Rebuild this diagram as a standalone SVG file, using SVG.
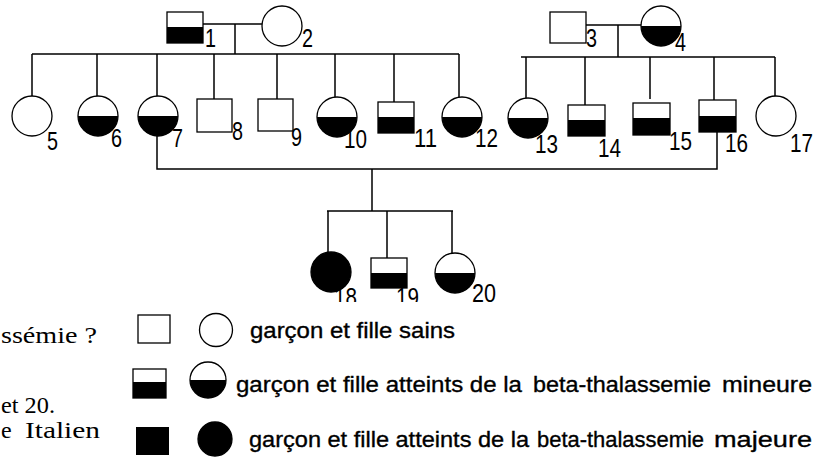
<svg xmlns="http://www.w3.org/2000/svg" width="828" height="457" viewBox="0 0 828 457">
<style>
.ln{stroke:#000;stroke-width:1.5;fill:none}
.sh{stroke:#000;stroke-width:1.3;fill:#fff}
.blk{fill:#000}
.full{fill:#000;stroke:#000;stroke-width:1.3}
.lbl{font-family:"Liberation Sans",Arial,sans-serif;font-size:25px;fill:#000}
.leg{font-family:"Liberation Sans",Arial,sans-serif;font-size:22px;fill:#000;stroke:#000;stroke-width:0.35}
.ser{font-family:"Liberation Serif","Times New Roman",serif;font-size:24px;fill:#000}
</style>
<defs>
<clipPath id="cut"><rect x="0" y="0" width="828" height="302"/></clipPath>
</defs>
<rect width="828" height="457" fill="#fff"/>

<g id="connectors">
<path class="ln" d="M203 24H262M235 24V54M32 54H459"/>
<path class="ln" d="M32 54V96M97 54V96M157 54V96M214 54V99M277 54V99M335 54V97M394 54V102M459 54V97"/>
<path class="ln" d="M586 25H641M618 25V57M521 57H775"/>
<path class="ln" d="M526 57V98M585 57V105M650 57V99M714 57V100M775 57V96"/>
<path class="ln" d="M157 136V169H717V132M372 169V211M327 211H453"/>
<path class="ln" d="M328 211V252M387 211V258M452 211V253"/>
</g>

<g id="n1"><rect class="sh" x="167" y="12" width="36" height="31"/><rect class="blk" x="167" y="27" width="36" height="16"/><text class="lbl" x="205" y="47" textLength="11" lengthAdjust="spacingAndGlyphs">1</text></g>
<g id="n2"><circle class="sh" cx="282" cy="26" r="20"/><text class="lbl" x="302" y="47" textLength="11" lengthAdjust="spacingAndGlyphs">2</text></g>
<g id="n3"><rect class="sh" x="550" y="12" width="36" height="31"/><text class="lbl" x="586" y="47" textLength="11" lengthAdjust="spacingAndGlyphs">3</text></g>
<g id="n4"><circle class="sh" cx="661" cy="26" r="20"/><path class="blk" d="M641 26A20 20 0 0 0 681 26Z"/><text class="lbl" x="675" y="51" textLength="11" lengthAdjust="spacingAndGlyphs">4</text></g>

<g id="n5"><circle class="sh" cx="32" cy="116" r="20"/><text class="lbl" x="47" y="150" textLength="11" lengthAdjust="spacingAndGlyphs">5</text></g>
<g id="n6"><circle class="sh" cx="98" cy="116" r="20"/><path class="blk" d="M78 116A20 20 0 0 0 118 116Z"/><text class="lbl" x="111" y="147" textLength="11" lengthAdjust="spacingAndGlyphs">6</text></g>
<g id="n7"><circle class="sh" cx="158" cy="116" r="20"/><path class="blk" d="M138 116A20 20 0 0 0 178 116Z"/><text class="lbl" x="172" y="147" textLength="11" lengthAdjust="spacingAndGlyphs">7</text></g>
<g id="n8"><rect class="sh" x="197" y="99" width="35" height="33"/><text class="lbl" x="232" y="140" textLength="11" lengthAdjust="spacingAndGlyphs">8</text></g>
<g id="n9"><rect class="sh" x="258" y="99" width="35" height="32"/><text class="lbl" x="291" y="146" textLength="11" lengthAdjust="spacingAndGlyphs">9</text></g>
<g id="n10"><circle class="sh" cx="337" cy="117" r="20"/><path class="blk" d="M317 117A20 20 0 0 0 357 117Z"/><text class="lbl" x="344" y="148" textLength="23" lengthAdjust="spacingAndGlyphs">10</text></g>
<g id="n11"><rect class="sh" x="378" y="102" width="36" height="31"/><rect class="blk" x="378" y="117" width="36" height="16"/><text class="lbl" x="414" y="147" textLength="23" lengthAdjust="spacingAndGlyphs">11</text></g>
<g id="n12"><circle class="sh" cx="462" cy="117" r="20"/><path class="blk" d="M442 117A20 20 0 0 0 482 117Z"/><text class="lbl" x="475" y="147" textLength="23" lengthAdjust="spacingAndGlyphs">12</text></g>
<g id="n13"><circle class="sh" cx="528" cy="118" r="20"/><path class="blk" d="M508 118A20 20 0 0 0 548 118Z"/><text class="lbl" x="535" y="153" textLength="23" lengthAdjust="spacingAndGlyphs">13</text></g>
<g id="n14"><rect class="sh" x="568" y="105" width="37" height="31"/><rect class="blk" x="568" y="120" width="37" height="16"/><text class="lbl" x="598" y="157" textLength="23" lengthAdjust="spacingAndGlyphs">14</text></g>
<g id="n15"><rect class="sh" x="633" y="103" width="37" height="32"/><rect class="blk" x="633" y="118" width="37" height="17"/><text class="lbl" x="669" y="150" textLength="23" lengthAdjust="spacingAndGlyphs">15</text></g>
<g id="n16"><rect class="sh" x="699" y="100" width="37" height="32"/><rect class="blk" x="699" y="116" width="37" height="16"/><text class="lbl" x="725" y="152" textLength="23" lengthAdjust="spacingAndGlyphs">16</text></g>
<g id="n17"><circle class="sh" cx="776" cy="116" r="20"/><text class="lbl" x="790" y="152" textLength="23" lengthAdjust="spacingAndGlyphs">17</text></g>

<g id="n18"><circle class="full" cx="331" cy="272" r="20"/><text class="lbl" x="334" y="306" textLength="23" lengthAdjust="spacingAndGlyphs" clip-path="url(#cut)">18</text></g>
<g id="n19"><rect class="sh" x="371" y="258" width="36" height="30"/><rect class="blk" x="371" y="273" width="36" height="15"/><text class="lbl" x="396" y="306" textLength="23" lengthAdjust="spacingAndGlyphs" clip-path="url(#cut)">19</text></g>
<g id="n20"><circle class="sh" cx="455" cy="273" r="20"/><path class="blk" d="M435 273A20 20 0 0 0 475 273Z"/><text class="lbl" x="472" y="302" textLength="24" lengthAdjust="spacingAndGlyphs">20</text></g>

<g id="question">
<text class="ser" x="1" y="343" textLength="96" lengthAdjust="spacingAndGlyphs">ssémie ?</text>
<text class="ser" x="1" y="413" textLength="54" lengthAdjust="spacingAndGlyphs">et 20.</text>
<text class="ser" x="1" y="438">e <tspan x="25" textLength="75" lengthAdjust="spacingAndGlyphs">Italien</tspan></text>
</g>

<g id="legend-sains">
<rect class="sh" x="138" y="315" width="32" height="28"/>
<circle class="sh" cx="216" cy="330" r="16.5"/>
<text class="leg" x="250" y="338" textLength="205" lengthAdjust="spacingAndGlyphs">garçon et fille sains</text>
</g>
<g id="legend-mineure">
<rect class="sh" x="133" y="369" width="33" height="29"/><rect class="blk" x="133" y="382" width="33" height="16"/>
<circle class="sh" cx="208" cy="380" r="18"/><path class="blk" d="M190 380A18 18 0 0 0 226 380Z"/>
<text class="leg" y="392"><tspan x="236" textLength="286" lengthAdjust="spacingAndGlyphs">garçon et fille atteints de la</tspan>  <tspan x="533" textLength="178" lengthAdjust="spacingAndGlyphs">beta-thalassemie</tspan>  <tspan x="722" textLength="90" lengthAdjust="spacingAndGlyphs">mineure</tspan></text>
</g>
<g id="legend-majeure">
<rect class="blk" x="136" y="427" width="33" height="28"/>
<circle class="full" cx="215" cy="439" r="17"/>
<text class="leg" y="447"><tspan x="249" textLength="280" lengthAdjust="spacingAndGlyphs">garçon et fille atteints de la</tspan> <tspan x="537" textLength="167" lengthAdjust="spacingAndGlyphs">beta-thalassemie</tspan> <tspan x="714" textLength="98" lengthAdjust="spacingAndGlyphs">majeure</tspan></text>
</g>
</svg>
